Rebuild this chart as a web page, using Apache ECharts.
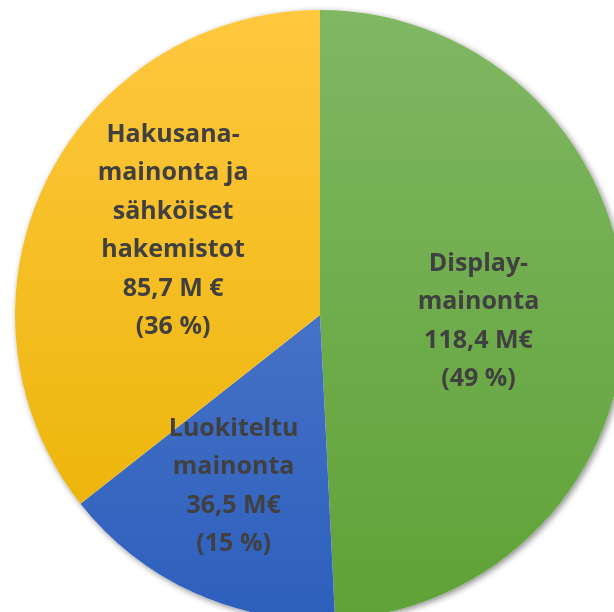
<!DOCTYPE html>
<html>
<head>
<meta charset="utf-8">
<script src="https://cdn.jsdelivr.net/npm/echarts@6/dist/echarts.min.js"></script>
<style>
  html, body { margin: 0; padding: 0; background: #fff; }
  #chart { width: 614px; height: 612px; }
</style>
</head>
<body>
<div id="chart"></div>
<script>
// mainonnan jakauma, M€
let names = ['Display-\nmainonta', 'Luokiteltu\nmainonta', 'Hakusana-\nmainonta ja\nsähköiset\nhakemistot']
let values = [118.4, 36.5, 85.7]
let units = [' M€', ' M€', ' M €']

let chart = echarts.init(document.getElementById('chart'))

function grad(top, bottom) {
  return {
    type: 'linear', x: 0, y: 10, x2: 0, y2: 620, global: true,
    colorStops: [{ offset: 0, color: top }, { offset: 1, color: bottom }]
  }
}
let colors = [grad('#80b763', '#5fa236'), grad('#5f84cf', '#2d5fbd'), grad('#ffc83f', '#e9b100')]
let offsets = [[3, 10], [-22, 30], [-7, -16]]

let total = values.reduce((a, b) => a + b, 0)
let data = values.map(function (v, i) {
  let pct = Math.round(v / total * 100)
  return {
    name: names[i],
    value: v,
    itemStyle: { color: colors[i] },
    label: {
      offset: offsets[i],
      formatter: names[i] + '\n' + String(v).replace('.', ',') + units[i] + '\n(' + pct + ' %)'
    }
  }
})

let option = {
  animation: false,
  series: [
    {
      // varjo
      type: 'pie',
      silent: true,
      center: [320, 315],
      radius: 305,
      label: { show: false },
      itemStyle: {
        color: '#fff',
        shadowBlur: 6,
        shadowColor: 'rgba(0,0,0,0.45)',
        shadowOffsetX: 2,
        shadowOffsetY: 2
      },
      data: [{ value: 1 }]
    },
    {
      type: 'pie',
      center: [320, 315],
      radius: 305,
      startAngle: 90,
      clockwise: true,
      itemStyle: { borderWidth: 0 },
      label: {
        show: true,
        position: 'inside',
        color: '#404040',
        fontFamily: 'Open Sans',
        fontWeight: 'bold',
        fontSize: 25,
        lineHeight: 38.5,
        align: 'center'
      },
      labelLine: { show: false },
      data: data
    }
  ]
}
chart.setOption(option)
</script>
</body>
</html>
